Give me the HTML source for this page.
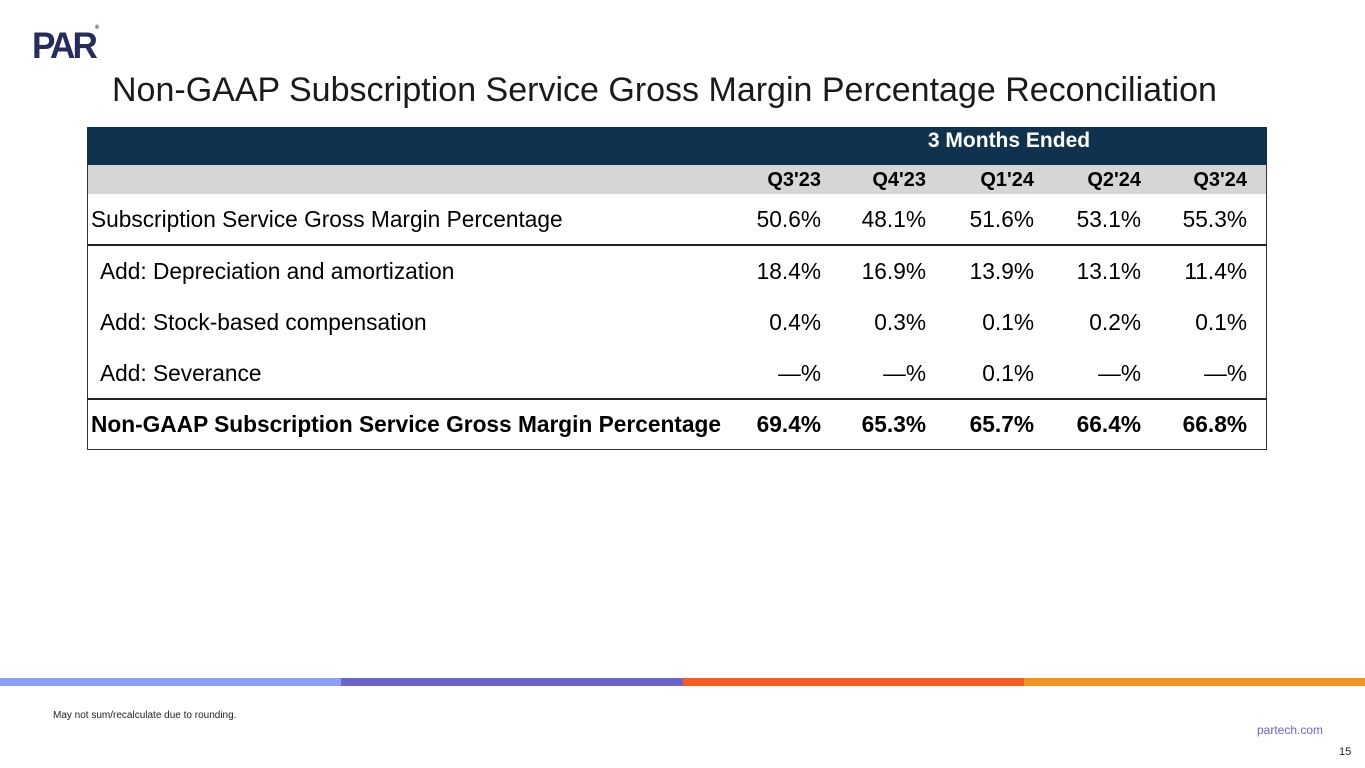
<!DOCTYPE html>
<html><head><meta charset="utf-8"><style>
body{margin:0;width:1365px;height:768px;background:#fff;position:relative;overflow:hidden;font-family:"Liberation Sans",Arial,sans-serif;color:#000}
.a{position:absolute}
.v{position:absolute;text-align:right;width:120px;font-size:22.7px;line-height:26px}
.l{position:absolute;font-size:22.7px;line-height:26px;white-space:nowrap}
</style></head><body>
<div class="a" style="left:32px;top:25px;font-size:37px;font-weight:900;color:#252d5c;letter-spacing:-3px;transform:scaleX(0.95);transform-origin:left">PAR<span style="font-size:6px;vertical-align:top;letter-spacing:0">®</span></div>
<div class="a" style="left:112px;top:71px;font-size:34px;color:#1a1a1a;white-space:nowrap">Non-GAAP Subscription Service Gross Margin Percentage Reconciliation</div>
<div class="a" style="left:87px;top:127px;width:1180px;height:323px;border:1px solid #333;box-sizing:border-box"></div>
<div class="a" style="left:87px;top:127px;width:1180px;height:38px;background:#0f334f"></div>
<div class="a" style="left:759px;top:128px;width:500px;text-align:center;color:#fff;font-weight:bold;font-size:21px;line-height:26px">3 Months Ended</div>
<div class="a" style="left:88px;top:165px;width:1178px;height:29px;background:#d6d6d6"></div>
<div class="a" style="left:87px;top:244px;width:1180px;height:2px;background:#222"></div>
<div class="a" style="left:87px;top:398px;width:1180px;height:2px;background:#222"></div>
<div id="t"></div>
<div class="a" style="left:0;top:678px;width:341px;height:8px;background:#8aa0fb"></div>
<div class="a" style="left:341px;top:678px;width:342px;height:8px;background:#6a64cc"></div>
<div class="a" style="left:683px;top:678px;width:341px;height:8px;background:#ff5a1f"></div>
<div class="a" style="left:1024px;top:678px;width:341px;height:8px;background:#f7941d"></div>
<div class="a" style="left:53px;top:710px;font-size:10px;color:#222">May not sum/recalculate due to rounding.</div>
<div class="a" style="left:1257px;top:723px;font-size:12px;color:#6a64cc">partech.com</div>
<div class="a" style="left:1339px;top:746px;font-size:11px;color:#222">15</div>
<script>
const periods=["Q3'23","Q4'23","Q1'24","Q2'24","Q3'24"];
const rowLabels=["Subscription Service Gross Margin Percentage","Add: Depreciation and amortization","Add: Stock-based compensation","Add: Severance","Non-GAAP Subscription Service Gross Margin Percentage"];
const row1=["50.6%","48.1%","51.6%","53.1%","55.3%"];
const row2=["18.4%","16.9%","13.9%","13.1%","11.4%"];
const row3=["0.4%","0.3%","0.1%","0.2%","0.1%"];
const row4=["—%","—%","0.1%","—%","—%"];
const row5=["69.4%","65.3%","65.7%","66.4%","66.8%"];
const rows=[row1,row2,row3,row4,row5];
const colRight=[821,926,1034,1141,1247];
const rowTop=[206,258,309,360,411];
const t=document.getElementById('t');
periods.forEach((p,i)=>{const d=document.createElement('div');d.className='v';


d.style.left=(colRight[i]-120)+'px';d.style.top='167px';d.style.fontWeight='bold';d.style.fontSize='20px';d.textContent=p;t.appendChild(d);});
rows.forEach((r,j)=>{const bold=j===4;const l=document.createElement('div');l.className='l';


l.style.left=(j>0&&j<4?100:91)+'px';l.style.top=rowTop[j]+'px';if(bold)l.style.fontWeight='bold';l.textContent=rowLabels[j];t.appendChild(l);
r.forEach((v,i)=>{const d=document.createElement('div');d.className='v';


d.style.left=(colRight[i]-120)+'px';d.style.top=rowTop[j]+'px';if(bold)d.style.fontWeight='bold';d.textContent=v;t.appendChild(d);});});
</script>
</body></html>
